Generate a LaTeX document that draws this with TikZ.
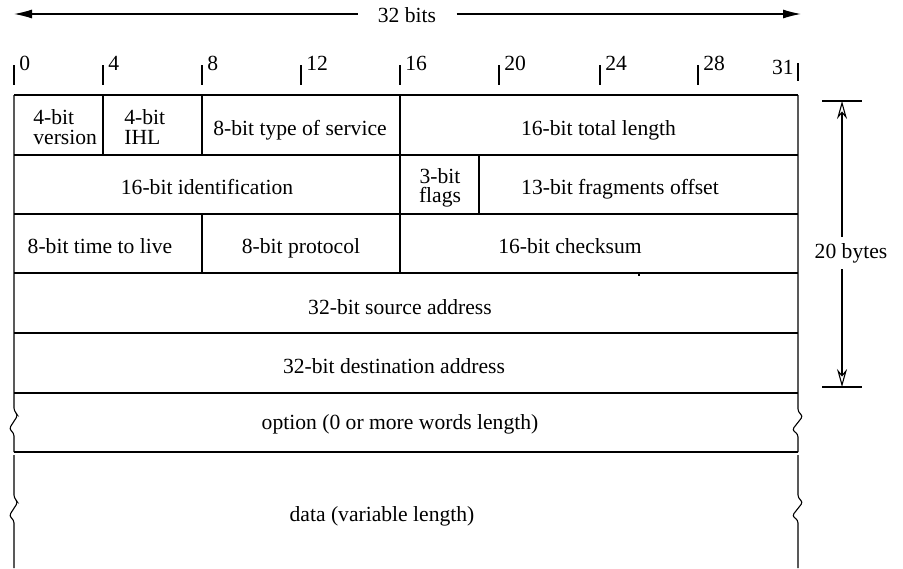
\documentclass[tikz,border=0pt]{standalone}
\usepackage{fontspec}
\setmainfont{Liberation Serif}
\usetikzlibrary{arrows.meta,calc}
\tikzset{>=latex}
\tikzset{
	field/.style={inner sep=0pt, font=\fontsize{10.8}{9.8}\selectfont},
	bitlabel/.style={field, anchor=base west},
	box/.style={line width=0.55pt},
	zig/.style={line width=0.55pt, rounded corners=1.5pt},
}

\begin{document}
\begin{tikzpicture}[x=0.5pt, y=-0.5pt]
	\useasboundingbox (0,0) rectangle (903,568);
	% width arrow
	\coordinate (bl) at (14,14);
	\coordinate (br) at (801,14);
	\node[field, fill=white, inner xsep=10pt, inner ysep=1pt] (bits) at (407,15) {32 bits};
	\draw[box, -{Latex[length=9pt,width=4.5pt]}] (bits.west |- bl) -- (bl);
	\draw[box, -{Latex[length=9pt,width=4.5pt]}] (bits.east |- br) -- (br);
	% bit positions
	\foreach \x/\b in {14/0, 103/4, 202/8, 301/12, 400/16, 499/20, 600/24, 698/28} {
		\draw[box] (\x,65) -- (\x,85);
		\node[bitlabel] (bit\b) at (\x+5,70) {\b};
	}
	\draw[box] (798,63) -- (798,81);
	\node[field, anchor=base east] (bit31) at (794,74) {31};
	% header rows
	\foreach \y in {95,155,214,273,333,393,452}
		\draw[box] (14,\y) -- (798,\y);
	\draw[box] (103,95) -- (103,155);
	\draw[box] (202,95) -- (202,155);
	\draw[box] (400,95) -- (400,273);
	\draw[box] (479,155) -- (479,214);
	\draw[box] (202,214) -- (202,273);
	\draw[box] (639,273) -- (639,276);
	% side edges with breaks
	\draw[zig] (14,95) -- (14,411) -- (18,415) -- (9,429) -- (14,433) -- (14,452);
	\draw[zig] (14,455) -- (14,498) -- (18,502) -- (9,516) -- (14,520) -- (14,568);
	\draw[zig] (798,95) -- (798,412) -- (803,416) -- (792,430) -- (798,434) -- (798,452);
	\draw[zig] (798,455) -- (798,498) -- (803,502) -- (792,516) -- (798,520) -- (798,568);
	% fields
	\node[field, align=left, anchor=west] (ver) at (33,127) {4-bit\\version};
	\node[field, align=left, anchor=west] (ihl) at (124,127) {4-bit\\IHL};
	\node[field, anchor=base] (tos) at (300,135.5) {8-bit type of service};
	\node[field, anchor=base] (len) at (598.5,135.5) {16-bit total length};
	\node[field, anchor=base] (ident) at (207,194.5) {16-bit identification};
	\node[field, align=center] (flags) at (440,188) {3-bit\\flags};
	\node[field, anchor=base] (frag) at (620,194.5) {13-bit fragments offset};
	\node[field, anchor=base] (ttl) at (100,253.5) {8-bit time to live};
	\node[field, anchor=base] (proto) at (301,253.5) {8-bit protocol};
	\node[field, anchor=base] (csum) at (570,253.5) {16-bit checksum};
	\node[field, anchor=base] (src) at (400,314.5) {32-bit source address};
	\node[field, anchor=base] (dst) at (394,373.5) {32-bit destination address};
	\node[field, anchor=base] (opt) at (400,429) {option (0 or more words length)};
	\node[field, anchor=base] (data) at (382,521.5) {data (variable length)};
	% header length
	\coordinate (htop) at (842,101);
	\coordinate (hbot) at (842,387);
	\draw[box] (822,101) -- (862,101);
	\draw[box] (822,387) -- (862,387);
	\draw[box, {Stealth[open,length=9pt,width=5pt]}-{Stealth[open,length=9pt,width=5pt]}] (hbot) -- (htop);
	\node[field, fill=white, inner ysep=3pt, anchor=base] (bytes) at (851,258) {20 bytes};
\end{tikzpicture}
\end{document}
